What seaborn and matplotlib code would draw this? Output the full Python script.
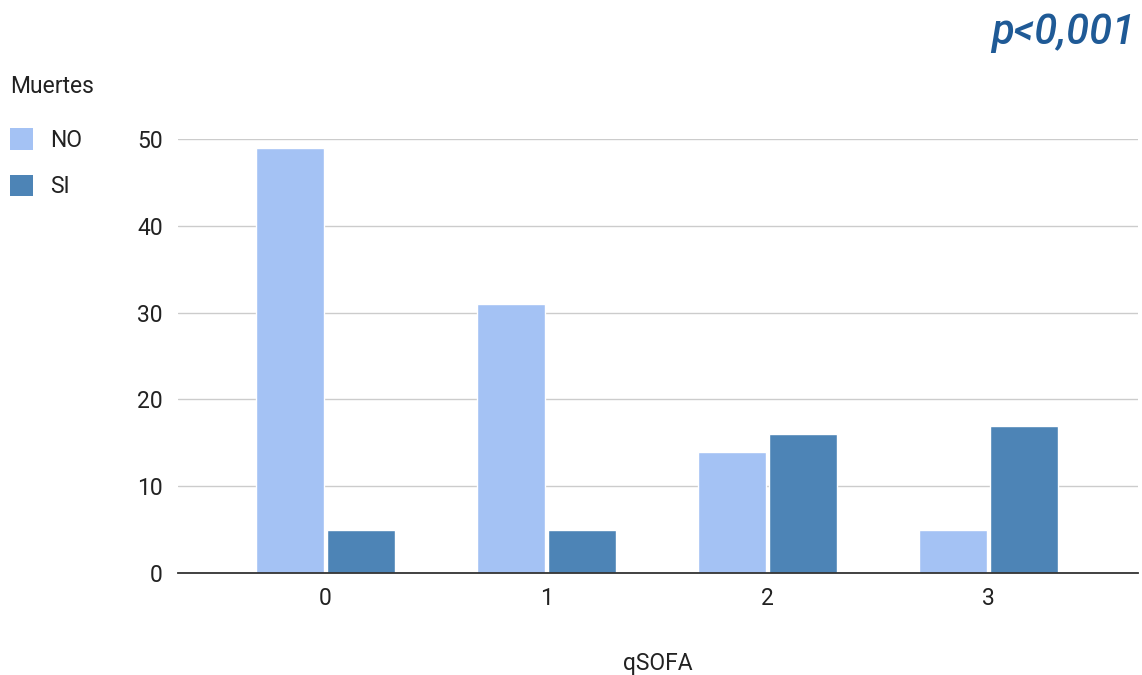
import matplotlib
matplotlib.use("Agg")
import matplotlib.pyplot as plt
import seaborn as sns
import pandas as pd
from matplotlib.patches import Patch

categories = ["0", "1", "2", "3"]
no_values = [49, 31, 14, 5]
si_values = [5, 5, 16, 17]
series_names = ["NO", "SI"]
colors = ["#a4c2f4", "#4d84b6"]

df = pd.DataFrame({
    "qSOFA": categories * 2,
    "Muertes": [series_names[0]] * len(categories) + [series_names[1]] * len(categories),
    "valor": no_values + si_values,
})

sns.set_theme(style="white")
plt.rcParams["font.family"] = ["Roboto", "DejaVu Sans"]

fig = plt.figure(figsize=(11.42, 6.75), dpi=100)
ax = fig.add_axes([0.156, 0.151, 0.8405, 0.643])

sns.barplot(data=df, x="qSOFA", y="valor", hue="Muertes", order=categories,
            hue_order=series_names, palette=colors, width=0.64, gap=0.04,
            saturation=1, ax=ax, legend=False, zorder=2)

ax.set_xlim(-0.665, 3.675)
ax.set_ylim(0, 50)
ax.set_yticks([0, 10, 20, 30, 40, 50])
ax.yaxis.grid(True, color="#cccccc", linewidth=1, zorder=0)
ax.set_axisbelow(True)
for s in ["top", "right", "left"]:
    ax.spines[s].set_visible(False)
ax.spines["bottom"].set_color("#333333")
ax.spines["bottom"].set_linewidth(1.3)
ax.tick_params(axis="both", length=0, labelsize=16.5, colors="#222222")
ax.tick_params(axis="y", pad=11)
ax.tick_params(axis="x", pad=10)
ax.set_ylabel("")
ax.set_xlabel("qSOFA", fontsize=16.5, color="#222222", labelpad=30)

handles = [Patch(facecolor=c, edgecolor="none", label=n) for c, n in zip(colors, series_names)]
leg = fig.legend(handles=handles, title="Muertes", loc="upper left",
                 bbox_to_anchor=(-0.005, 0.912), frameon=False, fontsize=16.5,
                 title_fontsize=16.5, handlelength=1.0, handleheight=1.05,
                 labelspacing=1.0, handletextpad=0.75, alignment="left",
                 borderaxespad=0.3)
leg._legend_box.sep = 16.5 * 1.0 + 5
leg.get_title().set_color("#222222")
for t in leg.get_texts():
    t.set_color("#222222")

fig.text(0.9945, 0.952, "p<0,001", ha="right", va="center", fontsize=30,
         style="italic", color="#1f5a96", fontweight="medium")

fig.savefig("out.png", dpi=100, facecolor="white")
